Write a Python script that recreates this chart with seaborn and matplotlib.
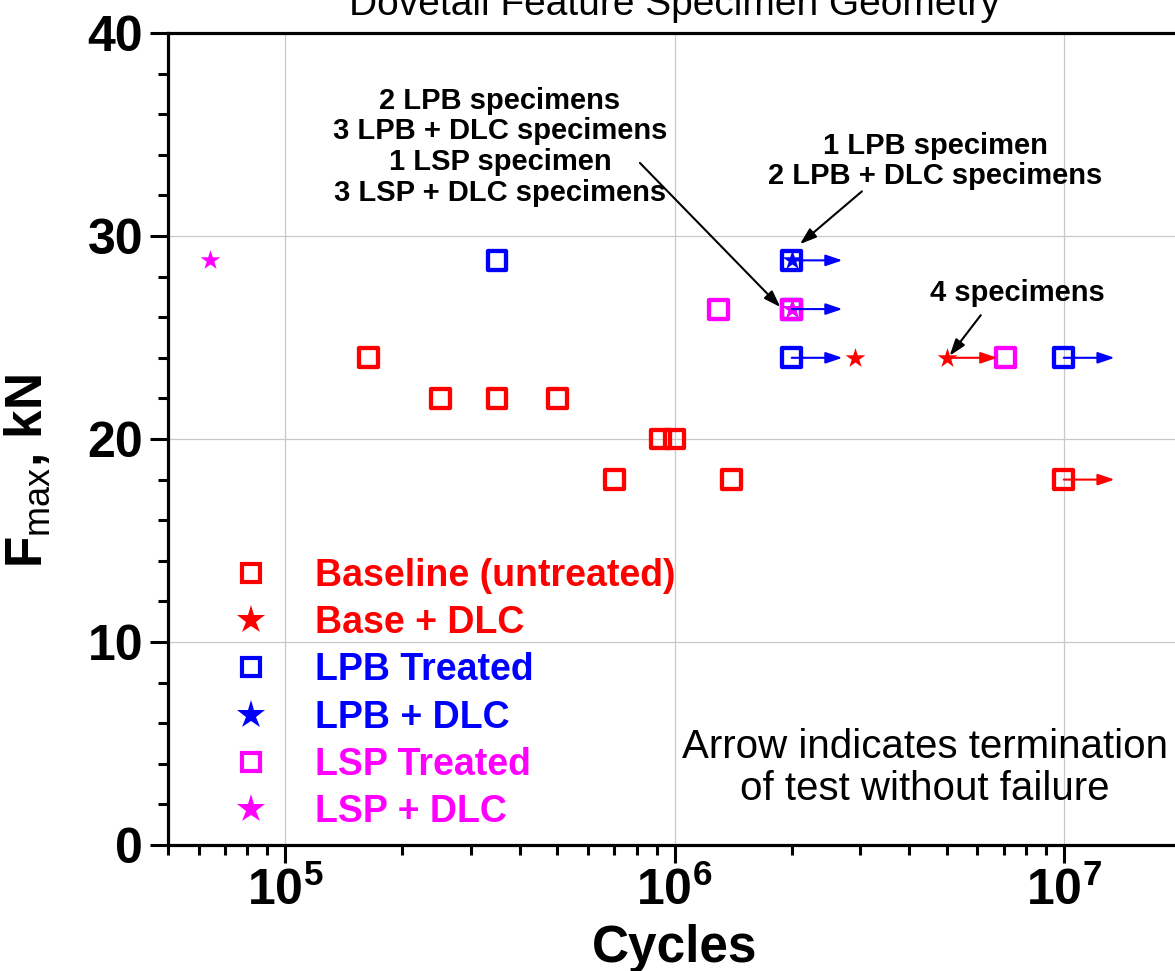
import numpy as np
import matplotlib
matplotlib.use("Agg")
import matplotlib.pyplot as plt
import matplotlib.ticker as mticker
from matplotlib.lines import Line2D
import seaborn as sns

# data
baseline_x = [1.64e5, 2.5e5, 3.5e5, 5.0e5, 9.2e5, 1.0e6, 7.0e5, 1.4e6, 1.0e7]
baseline_y = [24, 22, 22, 22, 20, 20, 18, 18, 18]
base_dlc_x = [2.9e6, 5.0e6]
base_dlc_y = [24, 24]
lpb_x = [3.5e5, 2.0e6, 2.0e6, 2.0e6, 1.0e7]
lpb_y = [28.8, 28.8, 26.4, 24, 24]
lpb_dlc_x = [2.0e6, 2.0e6]
lpb_dlc_y = [28.8, 26.4]
lsp_x = [1.3e6, 2.0e6, 7.1e6]
lsp_y = [26.4, 26.4, 24]
lsp_dlc_x = [6.4e4, 2.0e6]
lsp_dlc_y = [28.8, 26.4]

# runouts (test stopped without failure)
runout_x = [2.0e6, 2.0e6, 2.0e6, 5.0e6, 1.0e7, 1.0e7]
runout_y = [28.8, 26.4, 24, 24, 24, 18]
runout_c = ["blue", "blue", "blue", "red", "blue", "red"]

labels = ["Baseline (untreated)", "Base + DLC", "LPB Treated",
          "LPB + DLC", "LSP Treated", "LSP + DLC"]

RED, BLUE, MAG = "#ff0000", "#0000ff", "#ff00ff"

sns.set_style("white")
FONT = ["Liberation Sans", "DejaVu Sans"]
plt.rcParams["font.family"] = FONT
plt.rcParams["mathtext.fontset"] = "custom"
plt.rcParams["mathtext.rm"] = "Liberation Sans"
plt.rcParams["mathtext.bf"] = "Liberation Sans:bold"
for k in ["text.color", "axes.labelcolor", "xtick.color", "ytick.color"]:
    plt.rcParams[k] = "black"

W, H = 1175, 971
fig = plt.figure(figsize=(W / 100, H / 100), dpi=100)
ax = fig.add_axes([168 / W, (H - 845) / H, (1181 - 168) / W, (845 - 33) / H])

sq = dict(marker="s", s=185, facecolor="none", linewidth=3.1, legend=False, ax=ax, zorder=3)
st = dict(marker="*", s=225, linewidth=0, legend=False, ax=ax, zorder=4)

sns.scatterplot(x=baseline_x, y=baseline_y, edgecolor=RED, color=RED, **sq)
sns.scatterplot(x=base_dlc_x, y=base_dlc_y, color=RED, **st)
sns.scatterplot(x=lpb_x, y=lpb_y, edgecolor=BLUE, color=BLUE, **sq)
sns.scatterplot(x=lpb_dlc_x, y=lpb_dlc_y, color=BLUE, **st)
sq["zorder"], st["zorder"] = 5, 6
sns.scatterplot(x=lsp_x, y=lsp_y, edgecolor=MAG, color=MAG, **sq)
sns.scatterplot(x=lsp_dlc_x, y=lsp_dlc_y, color=MAG, **st)

ARROW = "-|>,head_length=0.5,head_width=0.17"
for x, y, c in zip(runout_x, runout_y, runout_c):
    ax.annotate("", xy=(x * 1.35, y), xytext=(x, y), zorder=7,
                arrowprops=dict(arrowstyle=ARROW, color=c, lw=1.5,
                                shrinkA=0, shrinkB=0, mutation_scale=20))

ax.set_xscale("log")
ax.set_xlim(5e4, 2e7)
ax.set_ylim(0, 40)
ax.yaxis.set_major_locator(mticker.MultipleLocator(10))
ax.yaxis.set_minor_locator(mticker.MultipleLocator(2))
ax.xaxis.set_major_locator(mticker.LogLocator(base=10, numticks=10))
ax.xaxis.set_minor_locator(mticker.LogLocator(base=10, subs=np.arange(2, 10), numticks=20))
ax.xaxis.set_major_formatter(mticker.FuncFormatter(
    lambda v, p: r"$\mathbf{10^{%d}}$" % round(np.log10(v))))
ax.xaxis.set_minor_formatter(mticker.NullFormatter())

ax.grid(True, which="major", color="#c8c8c8", lw=0.9)
ax.set_axisbelow(True)
for s in ax.spines.values():
    s.set_linewidth(2.3)
    s.set_color("black")
ax.tick_params(which="major", direction="out", length=13, width=2.2, pad=3,
               labelsize=36, left=True, bottom=True)
ax.tick_params(which="minor", direction="out", length=7, width=2.2,
               left=True, bottom=True)
ax.tick_params(axis="y", which="major", pad=5)
for t in ax.get_yticklabels():
    t.set_fontweight("bold")

ax.set_title("Dovetail Feature Specimen Geometry", fontsize=28, pad=13)
ax.set_xlabel("Cycles", fontsize=37, fontweight="bold", labelpad=6)
ax.set_ylabel(r"F$_{\mathrm{max}}$, kN", fontsize=37, fontweight="bold")
ax.yaxis.set_label_coords(-0.114, 0.46)

# notes
ax.text(3.56e5, 34.4, "2 LPB specimens\n3 LPB + DLC specimens\n1 LSP specimen\n3 LSP + DLC specimens",
        ha="center", va="center", fontsize=21, fontweight="bold", linespacing=1.12)
ax.annotate("", xy=(1.87e6, 26.5), xytext=(8.15e5, 33.6),
            arrowprops=dict(arrowstyle=ARROW, color="black", lw=1.5,
                            shrinkA=0, shrinkB=0, mutation_scale=20))
ax.text(4.67e6, 33.7, "1 LPB specimen\n2 LPB + DLC specimens",
        ha="center", va="center", fontsize=21, fontweight="bold", linespacing=1.12)
ax.annotate("", xy=(2.10e6, 29.6), xytext=(3.03e6, 32.2),
            arrowprops=dict(arrowstyle=ARROW, color="black", lw=1.5,
                            shrinkA=0, shrinkB=0, mutation_scale=20))
ax.text(7.62e6, 27.2, "4 specimens", ha="center", va="center",
        fontsize=21, fontweight="bold")
ax.annotate("", xy=(5.09e6, 24.1), xytext=(6.12e6, 26.1),
            arrowprops=dict(arrowstyle=ARROW, color="black", lw=1.5,
                            shrinkA=0, shrinkB=0, mutation_scale=20))
ax.text(4.4e6, 3.8, "Arrow indicates termination\nof test without failure",
        ha="center", va="center", fontsize=29, linespacing=1.15)

# legend
colors = [RED, RED, BLUE, BLUE, MAG, MAG]
markers = ["s", "*", "s", "*", "s", "*"]
handles = []
for c, m in zip(colors, markers):
    if m == "s":
        handles.append(Line2D([], [], ls="none", marker="s", ms=13, mew=3,
                              mfc="none", mec=c))
    else:
        handles.append(Line2D([], [], ls="none", marker="*", ms=21, mew=0, color=c))
leg = ax.legend(handles, labels, loc="upper left", frameon=False,
                bbox_to_anchor=(234 / W, 1 - 558 / H), bbox_transform=fig.transFigure,
                prop=dict(family=FONT, weight="bold", size=27),
                labelcolor=colors, handlelength=0.92, handletextpad=1.25,
                labelspacing=0.3, borderpad=0, borderaxespad=0)

fig.savefig("out.png", dpi=100)
